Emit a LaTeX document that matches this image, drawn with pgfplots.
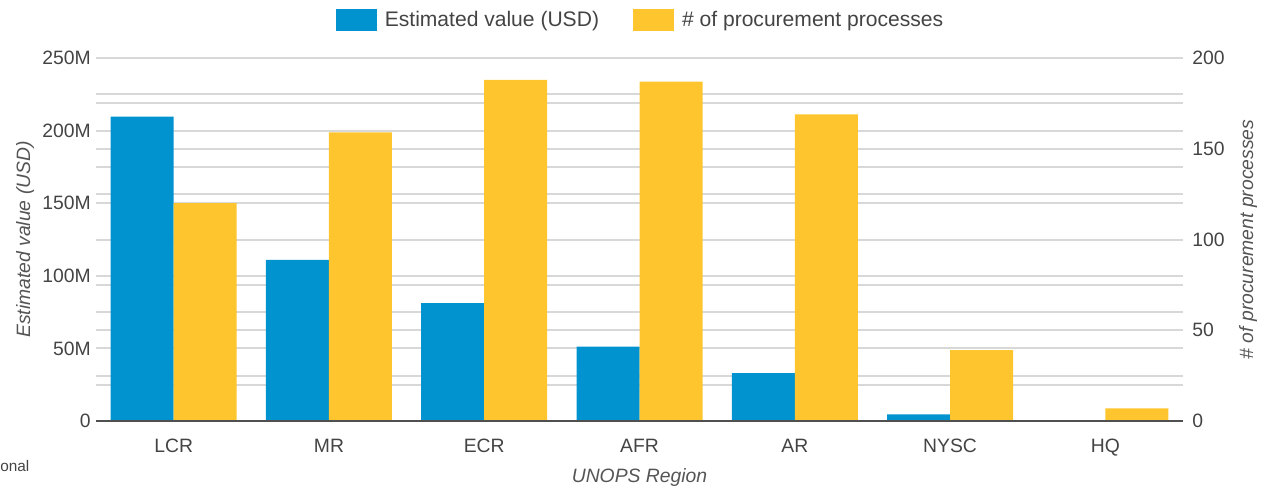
\documentclass[border=0pt]{standalone}
\usepackage{pgfplots}
\pgfplotsset{compat=1.18}
\usepackage{fontspec}
\setmainfont{Liberation Sans}
\definecolor{cblue}{HTML}{0192D0}
\definecolor{cyellow}{HTML}{FEC52E}
\definecolor{cgrid}{HTML}{D8D8D8}
\definecolor{ctext}{HTML}{444444}
\definecolor{caxis}{HTML}{555555}
\definecolor{czero}{HTML}{505050}

\pgfplotstableread{
x value
0 209.6
1 110.9
2 81.1
3 51.2
4 32.9
5 4.6
6 0
}\valuedata

\pgfplotstableread{
x count
0 120
1 159
2 188
3 187
4 169
5 39
6 7
}\countdata

\begin{document}
\begin{tikzpicture}
\useasboundingbox (0,0) rectangle (951.75pt,367.5pt);
\pgfplotsset{
  common/.style={
    at={(72pt,51.75pt)}, anchor=south west,
    scale only axis, width=815.25pt, height=272.25pt,
    xmin=-0.5, xmax=6.5,
    axis line style={draw=none},
    major tick length=0pt, minor tick length=0pt,
    ticklabel style={font=\fontsize{14.5}{17}\selectfont, text=ctext},
    label style={font=\fontsize{14.5}{17}\selectfont\itshape, text=caxis},
    bar width=47.25pt,
  }
}
\begin{axis}[
  common,
  ymin=0, ymax=250,
  xtick={0,...,6}, xticklabels={LCR,MR,ECR,AFR,AR,NYSC,HQ},
  xticklabel style={anchor=base, yshift=-23.85pt},
  ytick={0,50,...,250}, yticklabels={0,50M,100M,150M,200M,250M},
  yticklabel style={xshift=-0.5pt},
  minor ytick={25,75,...,225},
  extra y ticks={31.25,62.5,93.75,156.25,187.5,218.75},
  extra y tick labels={},
  extra y tick style={grid=major},
  ymajorgrids, yminorgrids,
  major grid style={cgrid, line width=1.5pt},
  minor grid style={cgrid, line width=1.5pt},
  ylabel={Estimated value (USD)},
  ylabel style={at={(axis description cs:-0.0653,0.5)}, anchor=center, rotate=0},
  xlabel={UNOPS Region},
  xlabel style={at={(axis description cs:0.5,-0.157)}, anchor=center},
  legend style={at={(axis description cs:0.5,1.106)}, anchor=center,
    draw=none, fill=none, legend columns=2,
    font=\fontsize{15.8}{18}\selectfont, text=ctext,
    nodes={inner sep=0pt},
    column sep=0pt,
    /tikz/every odd column/.append style={column sep=6pt},
    /tikz/every even column/.append style={column sep=25.5pt}},
  legend image code/.code={\fill[#1] (0pt,-8.25pt) rectangle (30.75pt,8.25pt);},
]
\addplot[ybar, bar shift=-23.625pt, fill=cblue, draw=none] table[x=x, y=value] {\valuedata};
\addlegendentry{Estimated value (USD)}
\addlegendimage{fill=cyellow, draw=none}
\addlegendentry{\# of procurement processes}
\end{axis}
\begin{axis}[
  common,
  ymin=0, ymax=200,
  axis x line=none,
  axis y line*=right,
  ytick={0,50,...,200}, yticklabels={0,50,100,150,200},
  yticklabel style={xshift=3.4pt},
  ylabel={\# of procurement processes},
  ylabel style={at={(axis description cs:1.0598,0.5)}, anchor=center, rotate=0},
]
\addplot[ybar, bar shift=23.625pt, fill=cyellow, draw=none] table[x=x, y=count] {\countdata};
\draw[czero, line width=2.2pt] (axis cs:-0.5,0) -- (axis cs:6.5,0);
\end{axis}
\node[anchor=west, text=ctext, font=\fontsize{11.5}{13}\selectfont, inner sep=0pt] at (0pt,18pt) {onal};
\end{tikzpicture}
\end{document}
